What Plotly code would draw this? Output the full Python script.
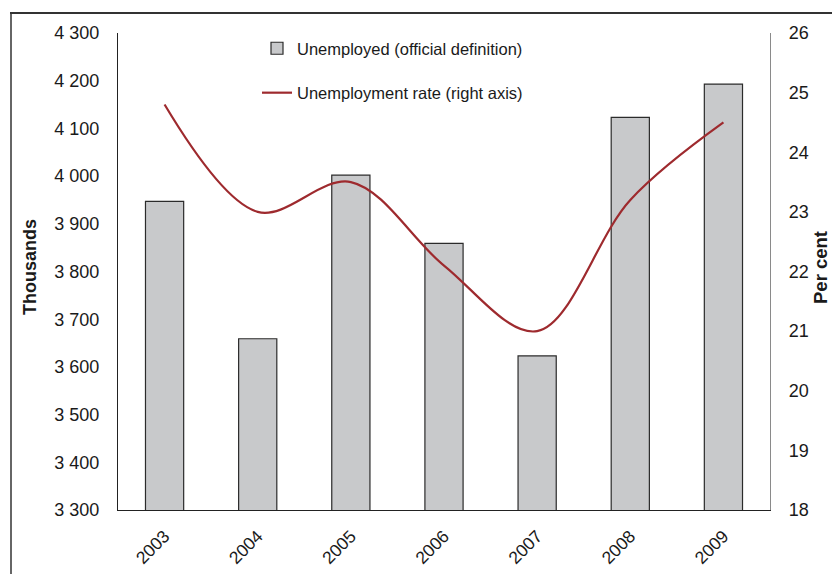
import plotly.graph_objects as go

# Annual figures
years = ["2003", "2004", "2005", "2006", "2007", "2008", "2009"]
unemployed_thousands = [3947, 3659, 4002, 3859, 3623, 4123, 4193]
unemployment_rate = [24.8, 23.0, 23.5, 22.1, 21.0, 23.2, 24.5]

left_ticks = list(range(3300, 4301, 100))
right_ticks = list(range(18, 27))

FONT = "Liberation Sans, Arial, sans-serif"
TEXT = "#1a1a1a"

# plot area in pixels, used to place the frame and side titles
L, R, T, B, W, H = 118, 62, 33, 64, 832, 574
PW, PH = W - L - R, H - T - B


def px(x):
    return (x - L) / PW


def py(y):
    return (H - B - y) / PH


fig = go.Figure()

fig.add_trace(go.Bar(
    x=years,
    y=unemployed_thousands,
    name="Unemployed (official definition)",
    marker=dict(color="#c8c9cb", line=dict(color="#2b2b2b", width=1.2)),
    legendgroup="a",
    yaxis="y",
))

fig.add_trace(go.Scatter(
    x=years,
    y=unemployment_rate,
    name="Unemployment rate (right axis)",
    mode="lines",
    line=dict(color="#9e2a2e", width=2.2, shape="spline", smoothing=1.0),
    legendgroup="b",
    yaxis="y2",
))

fig.update_layout(
    width=W,
    height=H,
    autosize=False,
    margin=dict(l=L, r=R, t=T, b=B),
    paper_bgcolor="white",
    plot_bgcolor="white",
    separators=". ",
    font=dict(family=FONT, size=18, color=TEXT),
    bargap=0.59,
    showlegend=True,
    legend=dict(
        x=px(257), y=py(31), xanchor="left", yanchor="top",
        bgcolor="rgba(0,0,0,0)",
        font=dict(family=FONT, size=16.5, color=TEXT),
        tracegroupgap=20,
        itemwidth=30,
    ),
    xaxis=dict(
        type="category",
        range=[-0.5, 6.5],
        automargin=False,
        showline=True, linecolor="#222", linewidth=1.3,
        showgrid=False, zeroline=False,
        ticks="", tickangle=-45,
        ticklabelstandoff=8,
        tickfont=dict(family=FONT, size=17.5, color=TEXT),
    ),
    yaxis=dict(
        range=[3300, 4300],
        tickvals=left_ticks,
        tickformat=",d",
        automargin=False,
        showline=True, linecolor="#222", linewidth=1.3,
        showgrid=False, zeroline=False,
        ticks="", ticklabelstandoff=14,
        tickfont=dict(family=FONT, size=18, color=TEXT),
    ),
    yaxis2=dict(
        range=[18, 26],
        tickvals=right_ticks,
        overlaying="y", side="right",
        automargin=False,
        showline=True, linecolor="#8a8a8a", linewidth=1.3,
        showgrid=False, zeroline=False,
        ticks="", ticklabelstandoff=14,
        tickfont=dict(family=FONT, size=18, color=TEXT),
    ),
    annotations=[
        dict(text="<b>Thousands</b>", xref="paper", yref="paper",
             x=px(30), y=py(267), xanchor="center", yanchor="middle",
             textangle=-90, showarrow=False,
             font=dict(family=FONT, size=18, color=TEXT)),
        dict(text="<b>Per cent</b>", xref="paper", yref="paper",
             x=px(820), y=py(268), xanchor="center", yanchor="middle",
             textangle=-90, showarrow=False,
             font=dict(family=FONT, size=18.5, color=TEXT)),
    ],
    shapes=[
        # outer frame: top rule and left rule
        dict(type="line", xref="paper", yref="paper",
             x0=px(10), x1=px(840), y0=py(13), y1=py(13),
             line=dict(color="#333", width=2.2)),
        dict(type="line", xref="paper", yref="paper",
             x0=px(11), x1=px(11), y0=py(13), y1=py(580),
             line=dict(color="#333", width=1.5)),
    ],
)

fig.write_html("out.html")
